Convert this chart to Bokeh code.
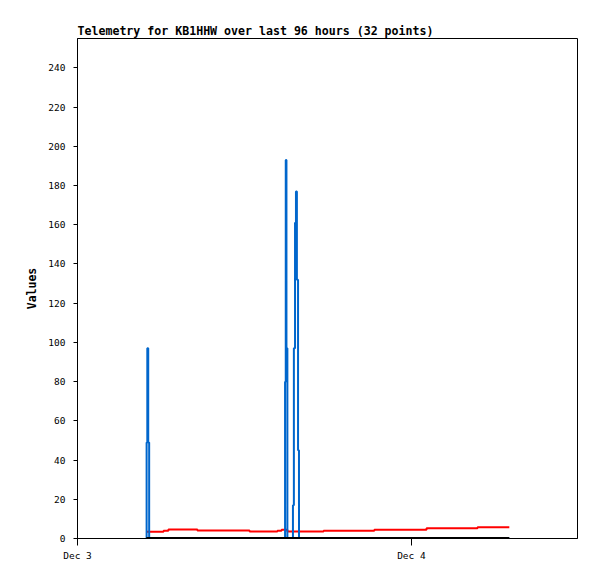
import pandas as pd
from bokeh.plotting import figure
from bokeh.models import FixedTicker, Range1d
from bokeh.embed import file_html
from bokeh.resources import INLINE

times = [
    "2023-12-03 04:57", "2023-12-03 04:58", "2023-12-03 05:01", "2023-12-03 05:05",
    "2023-12-03 05:09", "2023-12-03 06:11", "2023-12-03 06:32", "2023-12-03 08:37",
    "2023-12-03 12:22", "2023-12-03 14:22", "2023-12-03 14:40", "2023-12-03 14:55",
    "2023-12-03 14:58", "2023-12-03 15:01", "2023-12-03 15:05", "2023-12-03 15:29",
    "2023-12-03 15:33", "2023-12-03 15:38", "2023-12-03 15:42", "2023-12-03 15:46",
    "2023-12-03 15:51", "2023-12-03 15:55", "2023-12-03 16:45", "2023-12-03 17:41",
    "2023-12-03 19:37", "2023-12-03 21:20", "2023-12-03 23:13", "2023-12-04 01:05",
    "2023-12-04 02:48", "2023-12-04 04:45", "2023-12-04 05:41", "2023-12-04 07:02",
]
blue_values = [0, 49, 97, 49, 0, 0, 0, 0,
               0, 0, 0, 80, 193, 97, 0, 17,
               97, 161, 177, 132, 45, 0, 0, 0,
               0, 0, 0, 0, 0, 0, 0, 0]
red_values = [3.4, 3.4, 3.4, 3.4, 3.4, 3.9, 4.6, 4.1,
              3.6, 4.0, 4.5, 4.5, 4.5, 4.5, 3.6, 3.6,
              3.6, 3.6, 3.6, 3.6, 3.6, 3.6, 3.6, 4.0,
              4.0, 4.5, 4.5, 5.2, 5.2, 5.8, 5.8, 5.8]
black_values = [0] * 32

x_start = "2023-12-03 00:00"
x_end = "2023-12-04 11:56"
tick_dates = ["2023-12-03 00:00", "2023-12-04 00:00"]
tick_labels = ["Dec 3", "Dec 4"]
y_ticks = list(range(0, 241, 20))
y_max = 255

title_text = "Telemetry for KB1HHW over last 96 hours (32 points)"
y_label = "Values"

t = pd.to_datetime(times)
FONT = "DejaVu Sans Mono"

p = figure(frame_width=500, frame_height=500, x_axis_type="datetime",
           output_backend="svg", toolbar_location=None,
           x_range=Range1d(pd.Timestamp(x_start), pd.Timestamp(x_end)),
           y_range=Range1d(0, y_max),
           min_border_left=77, min_border_right=12, min_border_top=38, min_border_bottom=33,
           title=title_text)

p.title.text_font = FONT
p.title.text_font_size = "11.6px"
p.title.text_font_style = "bold"
p.title.text_color = "black"
p.title.align = "left"
p.title.offset = 0
p.title.standoff = 2

p.step(t, red_values, mode="after", line_color="#ff0000", line_width=2)
p.step(t, blue_values, mode="after", line_color="#0066cc", line_width=2)
p.line(t, black_values, line_color="black", line_width=3)

p.xgrid.visible = False
p.ygrid.visible = False
p.outline_line_color = "black"
p.outline_line_width = 1

tick_ms = [pd.Timestamp(d).value // 10**6 for d in tick_dates]
p.xaxis.ticker = FixedTicker(ticks=tick_ms)
p.xaxis.major_label_overrides = {ms: lab for ms, lab in zip(tick_ms, tick_labels)}
p.yaxis.ticker = FixedTicker(ticks=y_ticks)

for ax in (p.xaxis[0], p.yaxis[0]):
    ax.axis_line_color = "black"
    ax.major_tick_line_color = "black"
    ax.minor_tick_line_color = None
    ax.major_tick_in = 0
    ax.major_label_text_font = FONT
    ax.major_label_text_font_size = "9.5px"
    ax.major_label_text_color = "black"

p.xaxis.major_tick_out = 7
p.xaxis.major_label_standoff = 4
p.yaxis.major_tick_out = 4
p.yaxis.major_label_standoff = 8

p.yaxis.axis_label = y_label
p.yaxis.axis_label_text_font = FONT
p.yaxis.axis_label_text_font_size = "11.5px"
p.yaxis.axis_label_text_font_style = "bold"
p.yaxis.axis_label_text_color = "black"
p.yaxis.axis_label_standoff = 6

open("out.html", "w").write(file_html(p, INLINE))
